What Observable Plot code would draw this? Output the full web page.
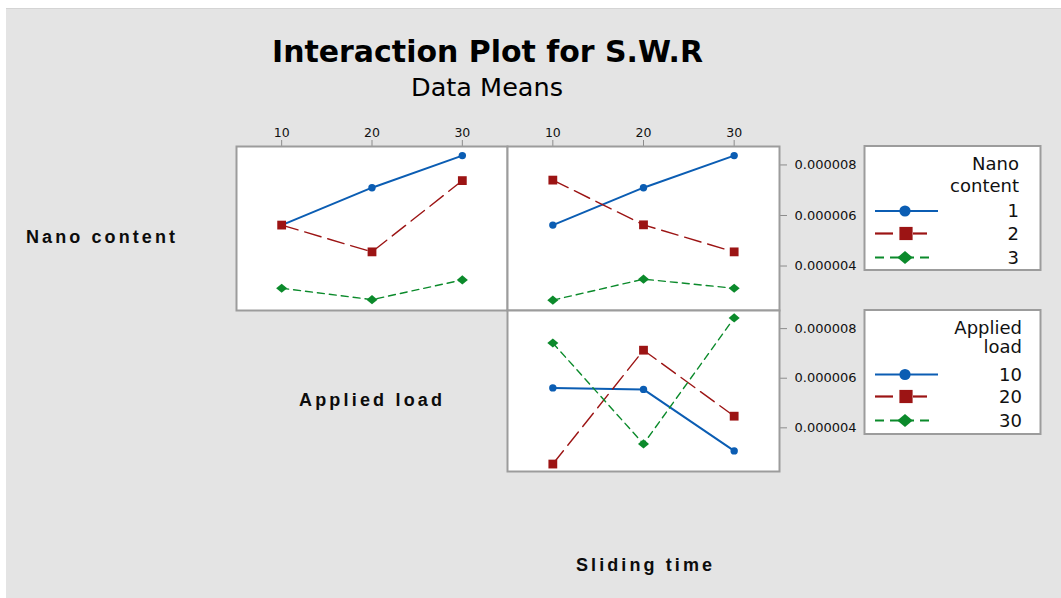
<!DOCTYPE html>
<html>
<head>
<meta charset="utf-8">
<script src="https://cdn.jsdelivr.net/npm/d3@7"></script>
<script src="https://cdn.jsdelivr.net/npm/@observablehq/plot@0.6"></script>
<style>
html, body { margin: 0; padding: 0; background: #fff; }
#stage { position: relative; width: 1061px; height: 598px; overflow: hidden; background: #fff; font-family: "DejaVu Sans", sans-serif; }
#bg { position: absolute; left: 6px; top: 8px; right: 0; bottom: 0; background: #e4e4e4; border-top: 1px solid #d4d4d4; }
.panel { position: absolute; }
.panel svg { display: block; }
.panel g[aria-label*="axis"] path, .panel g[aria-label*="axis"] line { stroke: #8c8c8c; }
.panel g[aria-label^="y-axis"] text { font-size: 13px; }
#overlay { position: absolute; left: 0; top: 0; }
</style>
</head>
<body>
<div id="stage"><div id="bg"></div></div>
<script>
// ---------------- data ----------------
const appliedLoad = [10, 20, 30];
const slidingTime = [10, 20, 30];
const xTicks = [10, 20, 30];
const yTicks = [0.000004, 0.000006, 0.000008];
const nanoLabels = ["1", "2", "3"];
const loadLabels = ["10", "20", "30"];

// Nano content (series) vs Applied load
const nano1VsLoad = [5.62e-6, 7.10e-6, 8.37e-6];
const nano2VsLoad = [5.62e-6, 4.56e-6, 7.38e-6];
const nano3VsLoad = [3.12e-6, 2.67e-6, 3.45e-6];
// Nano content (series) vs Sliding time
const nano1VsTime = [5.62e-6, 7.10e-6, 8.37e-6];
const nano2VsTime = [7.40e-6, 5.63e-6, 4.56e-6];
const nano3VsTime = [2.65e-6, 3.48e-6, 3.12e-6];
// Applied load (series) vs Sliding time
const load10VsTime = [5.61e-6, 5.55e-6, 3.07e-6];
const load20VsTime = [2.54e-6, 7.13e-6, 4.47e-6];
const load30VsTime = [7.42e-6, 3.35e-6, 8.43e-6];

// ---------------- styles ----------------
const colors = ["#0b5db3", "#9c1414", "#0b8a2b"];
const dashes = [null, "17,7", "7,5"];
const widths = [2, 1.4, 1.4];
const sqSym = {draw(ctx, size) { const r = Math.sqrt(size / Math.PI); ctx.moveTo(-r, -r); ctx.lineTo(r, -r); ctx.lineTo(r, r); ctx.lineTo(-r, r); ctx.closePath(); }};
const diaSym = {draw(ctx, size) { const r = Math.sqrt(size / Math.PI); ctx.moveTo(0, -r); ctx.lineTo(r * 1.2, 0); ctx.lineTo(0, r); ctx.lineTo(-r * 1.2, 0); ctx.closePath(); }};
const symbols = ["circle", sqSym, diaSym];
const radii = [3.7, 4.4, 4.6];
const yDomain = [2.24e-6, 8.73e-6];

const stage = document.getElementById("stage");

function panel(xs, seriesList, {top, right, left0, top0, w, h}) {
  const mT = top ? 30 : 2, mR = right ? 90 : 2, mL = 2, mB = 2;
  const marks = [Plot.frame({fill: "white"})];
  const datasets = seriesList.map(vals => xs.map((x, j) => ({x, y: vals[j]})));
  datasets.forEach((d, i) => {
    const opts = {x: "x", y: "y", stroke: colors[i], strokeWidth: widths[i]};
    if (dashes[i]) opts.strokeDasharray = dashes[i];
    marks.push(Plot.line(d, opts));
  });
  datasets.forEach((d, i) => {
    marks.push(Plot.dot(d, {x: "x", y: "y", symbol: symbols[i], r: radii[i], fill: colors[i], stroke: "none"}));
  });
  marks.push(Plot.frame({stroke: "#9c9c9c", strokeWidth: 2}));
  const svg = Plot.plot({
    width: w + mL + mR,
    height: h + mT + mB,
    marginTop: mT, marginRight: mR, marginBottom: mB, marginLeft: mL,
    x: {domain: [5, 35], axis: top ? "top" : null, ticks: xTicks, tickSize: 7, tickPadding: 3, label: null},
    y: {domain: yDomain, axis: right ? "right" : null, ticks: yTicks, tickFormat: d3.format(".6f"), tickSize: 7, tickPadding: 8, label: null},
    style: {background: "transparent", fontFamily: "DejaVu Sans", fontSize: "12.5px", color: "#111"},
    marks
  });
  const div = document.createElement("div");
  div.className = "panel";
  div.style.left = (left0 - mL) + "px";
  div.style.top = (top0 - mT) + "px";
  div.appendChild(svg);
  stage.appendChild(div);
}

panel(appliedLoad, [nano1VsLoad, nano2VsLoad, nano3VsLoad], {top: true, right: false, left0: 236, top0: 146, w: 271, h: 164});
panel(slidingTime, [nano1VsTime, nano2VsTime, nano3VsTime], {top: true, right: true, left0: 507, top0: 146, w: 272, h: 164});
panel(slidingTime, [load10VsTime, load20VsTime, load30VsTime], {top: false, right: true, left0: 507, top0: 310, w: 272, h: 161});

// ---------------- text & legends ----------------
const ov = d3.select(stage).append("svg").attr("id", "overlay").attr("width", 1061).attr("height", 598)
  .style("pointer-events", "none");

function txt(s, x, y, o = {}) {
  const t = ov.append("text").attr("x", x).attr("y", y).text(s)
    .attr("font-family", o.family || "DejaVu Sans").attr("font-size", o.size || 16)
    .attr("font-weight", o.bold ? "bold" : "normal").attr("fill", o.fill || "#111")
    .attr("text-anchor", o.anchor || "start");
  if (o.len) t.attr("textLength", o.len).attr("lengthAdjust", o.adjust || "spacingAndGlyphs");
  if (o.dy) t.attr("dy", o.dy);
  return t;
}
txt("Interaction Plot for S.W.R", 487.5, 62, {size: 30, bold: true, anchor: "middle", len: 431, fill: "#000"});
txt("Data Means", 487, 96, {size: 25, anchor: "middle", len: 152, fill: "#000"});
const rowOpts = {size: 18, bold: true, family: "Liberation Sans", adjust: "spacing", fill: "#0c0c0c"};
txt("Nano content", 26, 243, {...rowOpts, len: 149});
txt("Applied load", 299, 406, {...rowOpts, len: 143});
txt("Sliding time", 576, 571, {...rowOpts, len: 136});

function legend(x0, y0, w, h, titleLines, titleYs, labels, lineYs, textX) {
  ov.append("rect").attr("x", x0).attr("y", y0).attr("width", w).attr("height", h)
    .attr("fill", "white").attr("stroke", "#9c9c9c").attr("stroke-width", 2);
  titleLines.forEach((s, i) => txt(s, textX, titleYs[i], {size: 18, anchor: "end"}));
  labels.forEach((s, i) => {
    const y = lineYs[i];
    if (i === 0) {
      ov.append("line").attr("x1", 875).attr("x2", 938).attr("y1", y).attr("y2", y).attr("stroke", colors[0]).attr("stroke-width", 2);
    } else if (i === 1) {
      [[875, 893], [913, 927]].forEach(([a, b]) => ov.append("line").attr("x1", a).attr("x2", b).attr("y1", y).attr("y2", y).attr("stroke", colors[1]).attr("stroke-width", 2.2));
    } else {
      ov.append("line").attr("x1", 875).attr("x2", 935).attr("y1", y).attr("y2", y).attr("stroke", colors[2]).attr("stroke-width", 2).attr("stroke-dasharray", "9,6");
    }
    const sym = [d3.symbolCircle, sqSym, diaSym][i];
    const r = [5.6, 6.6, 6.4][i];
    ov.append("path").attr("d", d3.symbol(sym, r * r * Math.PI)()).attr("transform", `translate(${[905, 906, 905][i]},${y})`).attr("fill", colors[i]);
    txt(s, textX, y, {size: 18, anchor: "end", dy: "0.36em"});
  });
}
legend(864.5, 146, 176, 124, ["Nano", "content"], [169.5, 191.5], nanoLabels, [211, 233.5, 257.5], 1019);
legend(864.5, 310, 176, 124, ["Applied", "load"], [334, 353], loadLabels, [374.5, 396.5, 420.5], 1022);
</script>
</body>
</html>
